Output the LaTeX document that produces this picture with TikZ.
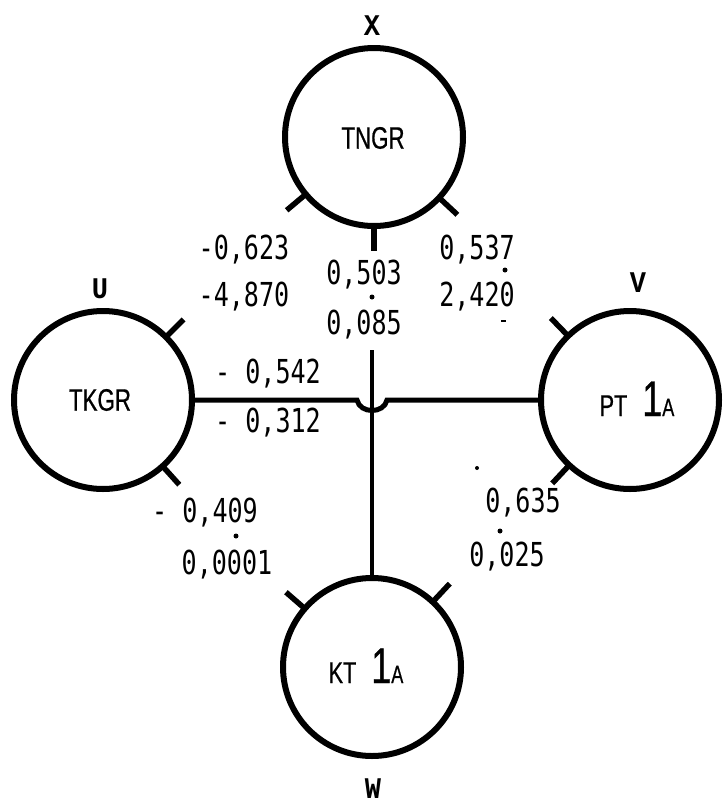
\documentclass[tikz,border=0pt]{standalone}
\usepackage{fontspec}
\usetikzlibrary{calc}
\newfontfamily\numfont[FakeStretch=0.76]{DejaVu Sans Mono}
\newfontfamily\namefont[FakeStretch=0.72,FakeBold=0.6]{Liberation Sans}
\newfontfamily\letfont[FakeStretch=0.9]{Liberation Mono}
\begin{document}
\begin{tikzpicture}[x=1pt,y=-1pt,
  blob/.style={circle,draw,line width=6pt,minimum size=178pt,inner sep=0pt,outer sep=0pt},
  stub/.style={line width=5.5pt},
  conn/.style={line width=5pt},
  vconn/.style={line width=4pt},
  num/.style={font=\numfont\fontsize{33}{35}\selectfont,inner sep=0pt},
  lett/.style={font=\letfont\bfseries\fontsize{30}{32}\selectfont,inner sep=0pt},
  nm/.style={font=\namefont\fontsize{31}{33}\selectfont,inner sep=0pt},
  speck/.style={fill,circle,inner sep=0pt,minimum size=5pt}]
\useasboundingbox (0,0) rectangle (726,806);

% circles
\node[blob] (tn) at (374,137) {};
\node[blob] (tk) at (103,400) {};
\node[blob] (pt) at (630,400) {};
\node[blob] (kt) at (372,667) {};

% circle labels
\node[nm] (tnl) at (373,138) {TNGR};
\node[nm] (tkl) at (100,400) {TKGR};
\node[nm,anchor=base] (ptl) at (637,416) {\fontsize{30}{32}\selectfont PT\,\fontsize{50}{52}\selectfont\ 1\fontsize{25}{27}\selectfont A};
\node[nm,anchor=base] (ktl) at (366,683) {\fontsize{30}{32}\selectfont KT\,\fontsize{50}{52}\selectfont\ 1\fontsize{25}{27}\selectfont A};

% letters
\node[lett] (lx) at (372,26) {X};
\node[lett] (lu) at (100,289) {U};
\node[lett] (lv) at (638,283) {V};
\node[lett] (lw) at (373,789) {W};

% stubs
\foreach \n/\a in {tn/220,tn/317,tn/270,tk/45,tk/312,pt/134,pt/227,kt/139,kt/47}{
  \draw[stub] (\n.\a) -- ($(\n.\a)!-25pt!(\n.center)$);
}

% connectors
\coordinate (vtop) at (372,350);
\draw[vconn] (vtop) -- (kt.north);
\draw[conn] (tk.east) -- (357,400) .. controls (360,414) and (384,414) .. (387,400) -- (pt.west);

% numbers
\node[num] (n1) at (244,250) {-0,623};
\node[num] (n2) at (244,297) {-4,870};
\node[num] (n3) at (364,275) {0,503};
\node[num] (n4) at (364,325) {0,085};
\node[num] (n5) at (477,250) {0,537};
\node[num] (n6) at (477,297) {2,420};
\node[num] (n7) at (268,374) {- 0,542};
\node[num] (n8) at (268,423) {- 0,312};
\node[num] (n9) at (205,513) {- 0,409};
\node[num] (n10) at (227,565) {0,0001};
\node[num] (n11) at (523,503) {0,635};
\node[num] (n12) at (507,557) {0,025};

% small marks
\node[speck] (m1) at (372,297) {};
\node[speck] (m2) at (505,270) {};
\node[speck] (m3) at (236,536) {};
\node[speck] (m4) at (500,531) {};
\node[speck,minimum size=4pt] (m5) at (477,468) {};
\node[fill,inner sep=0pt,minimum width=5pt,minimum height=2.5pt] (m6) at (503,321) {};
\end{tikzpicture}
\end{document}
